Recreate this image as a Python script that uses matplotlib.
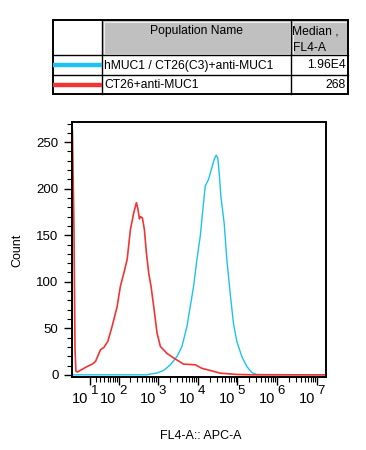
import numpy as np
import matplotlib
matplotlib.use('Agg')
import matplotlib.pyplot as plt
from matplotlib.ticker import FixedLocator, NullFormatter
from matplotlib.patches import Rectangle
from matplotlib.transforms import offset_copy

# ── Data ─────────────────────────────────────────────────────────────────────
population_names = ['hMUC1 / CT26(C3)+anti-MUC1', 'CT26+anti-MUC1']
medians          = ['1.96E4', '268']
line_colors      = ['#1cc3f0', '#f03535']

# red: CT26+anti-MUC1
red_x = [-21, -18, -16, -14.3, -11.9, 4.7, 13.2, 19.4, 30.2, 38.8, 51, 67,
         91.6, 111, 136, 166, 201, 244, 285, 309, 340, 360, 404, 454, 510,
         584, 668, 779, 945, 1146, 1685, 2727, 4413, 8672, 12740, 20640,
         36800, 96460, 252800, 1.7e7]
red_y = [263, 158, 28, 4, 3, 9, 11.5, 14.4, 27, 29.4, 36, 52,
         73.5, 95, 109, 124, 156, 174, 185, 179, 167.6, 170, 168.7, 156, 131,
         109, 95, 73.5, 45, 30.5, 23, 17, 11.5, 10.8, 7, 4.7,
         1.8, 0.4, 0, 0]

# blue: hMUC1 / CT26(C3)+anti-MUC1
blue_x = [-21, 530, 584, 945, 1389, 2044, 3002, 4010, 5354, 6493, 7868, 9548,
          11580, 14030, 15460, 18730, 22710, 25980, 29200, 32120, 34710,
          38250, 46360, 54070, 65570, 79500, 96460, 128800, 171900, 229500,
          306400, 1.7e7]
blue_y = [0, 0, 0.5, 2, 4.7, 10.8, 19.7, 30.5, 52, 73.5, 95, 124,
          149, 185, 203, 210, 222.6, 231.5, 236, 233, 217,
          192, 163, 124, 88, 55, 36, 19.7, 9, 2.5,
          0.4, 0]

x_decades = [1, 2, 3, 4, 5, 6, 7]
y_ticks   = [0, 50, 100, 150, 200, 250]

# ── Style ────────────────────────────────────────────────────────────────────
plt.rcParams['font.family'] = ['Liberation Sans', 'DejaVu Sans']

W, H = 366, 450
fig = plt.figure(figsize=(W / 100, H / 100), dpi=100)

# ── Histogram axes ───────────────────────────────────────────────────────────
L, R, T, B = 71.7, 326, 121.7, 376.7
ax = fig.add_axes([L / W, 1 - B / H, (R - L) / W, (B - T) / H])

A = 28.0
fwd = lambda v: np.arcsinh(np.asarray(v, dtype=float) / A)
inv = lambda v: A * np.sinh(np.asarray(v, dtype=float))
ax.set_xscale('function', functions=(fwd, inv))

ax.plot(blue_x, blue_y, color=line_colors[0], lw=1.0)
ax.plot(red_x, red_y, color=line_colors[1], lw=1.2)

ax.set_xlim(-22.5, 1.7e7)
ax.set_ylim(-2, 272)

maj = [10 ** k for k in x_decades]
minor = [m * 10 ** k for k in range(1, 7) for m in range(2, 10)]
ax.xaxis.set_major_locator(FixedLocator(maj))
ax.xaxis.set_major_formatter(NullFormatter())
ax.xaxis.set_minor_locator(FixedLocator(minor))
ax.yaxis.set_major_locator(FixedLocator(y_ticks))
ax.yaxis.set_minor_locator(FixedLocator(np.arange(0, 271, 10)))

ax.tick_params(which='major', direction='out', length=6, width=1.0,
               labelsize=9.5, colors='black')
ax.tick_params(which='minor', direction='out', length=3.5, width=0.8)
for s in ax.spines.values():
    s.set_linewidth(1.4)
    s.set_color('black')

# "10" + raised exponent, like the cytometry software prints them
xt = ax.get_xaxis_transform()
for k in x_decades:
    base = offset_copy(xt, fig=fig, x=-1.5, y=-16.2, units='points')
    expo = offset_copy(xt, fig=fig, x=0.3, y=-10.5, units='points')
    ax.text(10 ** k, 0, '10', transform=base, ha='right', va='center',
            fontsize=10.5, clip_on=False)
    ax.text(10 ** k, 0, str(k), transform=expo, ha='left', va='center',
            fontsize=9.5, clip_on=False)

fig.text(17 / W, 1 - 250 / H, 'Count', rotation=90, ha='center',
         va='center', fontsize=9)
fig.text(201 / W, 1 - 436 / H, 'FL4-A:: APC-A', ha='center', va='center',
         fontsize=9)

# ── Legend table ─────────────────────────────────────────────────────────────
tab = fig.add_axes([0, 0, 1, 1])
tab.set_xlim(0, W)
tab.set_ylim(H, 0)
tab.axis('off')

x0, x1, x2, x3 = 53, 102, 291, 348
y0, y1, y2, y3 = 20, 55, 75, 94

for cx0, cx1 in [(x1, x2), (x2, x3)]:
    tab.add_patch(Rectangle((cx0, y0), cx1 - cx0, y1 - y0,
                            facecolor='#c0c0c0', edgecolor='none'))
    tab.add_patch(Rectangle((cx0 + 1.5, y0 + 1.5), cx1 - cx0 - 3, y1 - y0 - 3,
                            facecolor='none', edgecolor='#ececec', lw=0.8))

tab.add_patch(Rectangle((x0, y0), x3 - x0, y3 - y0, facecolor='none',
                        edgecolor='black', lw=1.4))
for xv in [x1, x2]:
    tab.plot([xv, xv], [y0, y3], color='black', lw=1.0)
for yv in [y1, y2]:
    tab.plot([x0, x3], [yv, yv], color='black', lw=1.0)

tab.text((x1 + x2) / 2, 31, 'Population Name', ha='center', va='center',
         fontsize=8.7)
tab.text(x2 + 1.5, 31.5, 'Median ,', ha='left', va='center', fontsize=8.7)
tab.text(x2 + 1.5, 48, 'FL4-A', ha='left', va='center', fontsize=8.7)

row_y = [(y1 + y2) / 2, (y2 + y3) / 2]
for name, med, col, yc in zip(population_names, medians, line_colors, row_y):
    tab.plot([x0, x1], [yc, yc], color=col, lw=3.2, solid_capstyle='butt')
    tab.text(x1 + 2, yc + 0.5, name, ha='left', va='center', fontsize=8.7)
    tab.text(x3 - 2, yc + 0.5, med, ha='right', va='center', fontsize=8.7)

fig.savefig('out.png', dpi=100)
